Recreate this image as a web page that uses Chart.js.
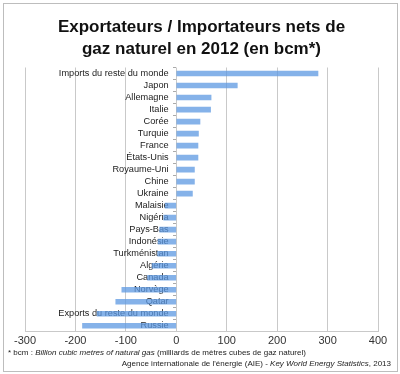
<!DOCTYPE html>
<html>
<head>
<meta charset="utf-8">
<script src="https://cdn.jsdelivr.net/npm/chart.js@4.4.0/dist/chart.umd.min.js"></script>
<style>
  body { margin: 0; background: #fff; }
  #frame { position: absolute; left: 3px; top: 3px; width: 393px; height: 367px; border: 1px solid #bdbdbd; }
  #wrap { position: absolute; left: 0; top: 0; width: 400px; height: 351px; }
  .note { position: absolute; font-family: "Liberation Sans", Arial, sans-serif; font-size: 8px; color: #222; white-space: nowrap; }
</style>
</head>
<body>
<div id="frame"></div>
<div id="wrap"><canvas id="canvas"></canvas></div>
<div class="note" style="left:8px; top:348px;">* bcm : <i>Billion cubic metres of natural gas</i> (milliards de mètres cubes de gaz naturel)</div>
<div class="note" style="right:9px; top:359px;">Agence internationale de l'énergie (AIE) - <i>Key World Energy Statistics</i>, 2013</div>
<script>
// pays, du haut vers le bas
const countries = [
  "Imports du reste du monde", "Japon", "Allemagne", "Italie", "Corée", "Turquie",
  "France", "États-Unis", "Royaume-Uni", "Chine", "Ukraine",
  "Malaisie", "Nigéria", "Pays-Bas", "Indonésie", "Turkménistan", "Algérie",
  "Canada", "Norvège", "Qatar", "Exports du reste du monde", "Russie"
];
// bcm, importations nettes (+) / exportations nettes (-)
const netGas = [
  281, 121, 69, 68, 47, 44,
  43, 43, 36, 36, 32,
  -22, -25, -33, -36, -37, -48,
  -57, -108, -120, -157, -186
];
const xTicks = [-300, -200, -100, 0, 100, 200, 300, 400];

const canvas = document.querySelector("#canvas");
const chart = new Chart(canvas, {
  type: "bar",
  data: {
    labels: countries,
    datasets: [
      {
        data: netGas,
        backgroundColor: "rgba(92, 152, 225, 0.75)",
        borderWidth: 0,
        barThickness: 5,
      },
    ],
  },
  options: {
    indexAxis: "y",
    responsive: true,
    maintainAspectRatio: false,
    animation: false,
    layout: { padding: { left: 25, right: 22, top: 0, bottom: 0 } },
    plugins: {
      legend: { display: false },
      tooltip: { enabled: false },
      title: {
        display: true,
        text: ["Exportateurs / Importateurs nets de", "gaz naturel en 2012 (en bcm*)"],
        color: "#111",
        font: { family: "Liberation Sans", size: 17, weight: "bold", lineHeight: 1.25 },
        padding: { top: 17, bottom: 8 },
      },
    },
    scales: {
      x: {
        min: -300,
        max: 400,
        afterBuildTicks: (axis) => { axis.ticks = xTicks.map(v => ({ value: v })); },
        grid: { color: "#c9c9c9", lineWidth: 1, tickLength: 0 },
        border: { color: "#c9c9c9" },
        ticks: { color: "#333", font: { family: "Liberation Sans", size: 11 }, padding: 3 },
      },
      y: {
        position: { x: 0 },
        grid: { drawOnChartArea: false, tickLength: 3, color: "#aaa", offset: true },
        border: { display: false },
        ticks: {
          color: "#222",
          font: { family: "Liberation Sans", size: 9.2 },
          autoSkip: false,
          // écart entre le nom et la ligne du zéro
          callback: (v, i) => countries[i] + "   ",
        },
      },
    },
  },
});
</script>
</body>
</html>
